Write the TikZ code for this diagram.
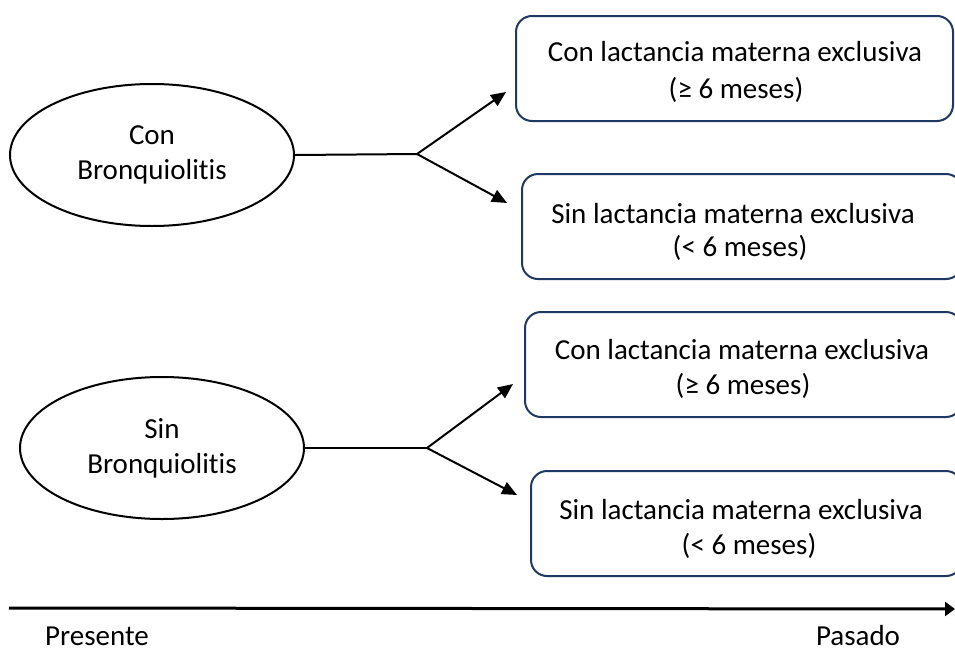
\documentclass[tikz,border=0pt]{standalone}
\usepackage{fontspec}
\setmainfont{Carlito}[Ligatures={NoCommon}]
\usetikzlibrary{arrows.meta,shapes.geometric}
\definecolor{boxblue}{HTML}{1F3864}
\tikzset{
  rbox/.style={draw=boxblue, line width=2pt, rounded corners=16pt},
  ell/.style={draw=black, line width=2pt, ellipse, minimum width=284pt, minimum height=142pt, inner sep=0pt, font=\fontsize{29}{35}\selectfont, align=center},
  txt/.style={font=\fontsize{29}{35}\selectfont, inner sep=0pt, anchor=center},
  conn/.style={line width=2pt},
  arr/.style={line width=2pt, -{Triangle[length=15pt,width=13pt]}},
}
\begin{document}
\begin{tikzpicture}[x=1pt,y=-1pt]
\useasboundingbox (0,0) rectangle (955,648);
\begin{scope}
\clip (0,0) rectangle (955,648);
% boxes
\draw[rbox] (516,16) rectangle (953,121);
\draw[rbox] (522,174) rectangle (962,279);
\draw[rbox] (525,312) rectangle (962,417);
\draw[rbox] (531,471) rectangle (962,576);
\end{scope}
\node[txt] (b1a) at (735,52) {Con lactancia materna exclusiva};
\node[txt] (b1b) at (736,90) {(≥ 6 meses)};
\node[txt] (b2a) at (733,214) {Sin lactancia materna exclusiva};
\node[txt] (b2b) at (740,248) {(< 6 meses)};
\node[txt] (b3a) at (742,350) {Con lactancia materna exclusiva};
\node[txt] (b3b) at (743,386) {(≥ 6 meses)};
\node[txt] (b4a) at (741,510) {Sin lactancia materna exclusiva};
\node[txt] (b4b) at (749,546) {(< 6 meses)};
% ellipses
\node[ell] (e1) at (152,155) {Con\\Bronquiolitis};
\node[ell] (e2) at (162,448) {Sin\\Bronquiolitis};
% connectors
\coordinate (s1) at (417,154);
\coordinate (t1a) at (506,92);
\coordinate (t1b) at (507,203);
\draw[conn] (e1.east) -- (s1);
\draw[arr] (s1) -- (t1a);
\draw[arr] (s1) -- (t1b);
\coordinate (s2) at (427,448);
\coordinate (t2a) at (513,384);
\coordinate (t2b) at (517,495);
\draw[conn] (e2.east) -- (s2);
\draw[arr] (s2) -- (t2a);
\draw[arr] (s2) -- (t2b);
% timeline
\coordinate (tl0) at (9,608);
\coordinate (tl1) at (955,609);
\draw[line width=3pt, -{Triangle[length=10pt,width=14pt]}] (tl0) -- (tl1);
\node[txt] (pres) at (97,636) {Presente};
\node[txt] (pas) at (858,636) {Pasado};
\end{tikzpicture}
\end{document}
